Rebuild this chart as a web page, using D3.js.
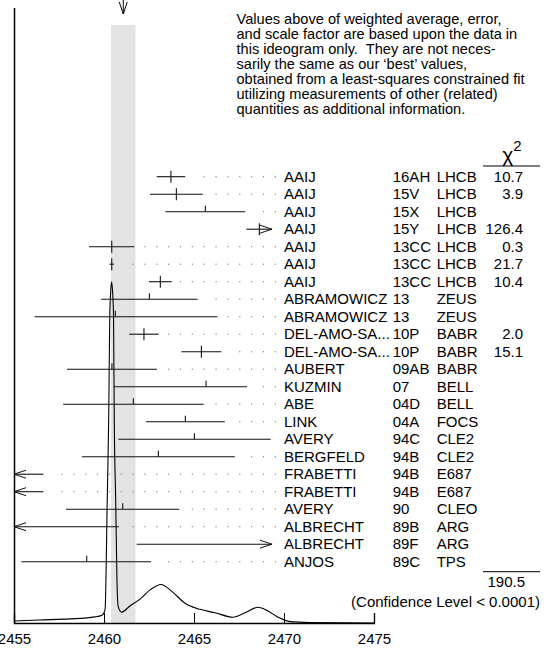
<!DOCTYPE html>
<html>
<head>
<meta charset="utf-8">
<script src="https://cdn.jsdelivr.net/npm/d3@7"></script>
<style>
	body { margin: 0; background: #fff; }
	svg text { font-family: "Liberation Sans", Arial, Helvetica, sans-serif; fill: #000; white-space: pre; }
</style>
</head>
<body>
<div class="chart"></div>
<script>
var authors = ["AAIJ","AAIJ","AAIJ","AAIJ","AAIJ","AAIJ","AAIJ","ABRAMOWICZ","ABRAMOWICZ",
	"DEL-AMO-SA...","DEL-AMO-SA...","AUBERT","KUZMIN","ABE","LINK","AVERY","BERGFELD",
	"FRABETTI","FRABETTI","AVERY","ALBRECHT","ALBRECHT","ANJOS"];
var refs = ["16AH","15V","15X","15Y","13CC","13CC","13CC","13","13","10P","10P","09AB","07",
	"04D","04A","94C","94B","94B","94B","90","89B","89F","89C"];
var exps = ["LHCB","LHCB","LHCB","LHCB","LHCB","LHCB","LHCB","ZEUS","ZEUS","BABR","BABR","BABR",
	"BELL","BELL","FOCS","CLE2","CLE2","E687","E687","CLEO","ARG","ARG","TPS"];
var chi2 = ["10.7","3.9","","126.4","0.3","21.7","10.4","","","2.0","15.1","","","","","","",
	"","","","","",""];
var values = [2463.72, 2464.02, 2465.63, 2468.63, 2460.43, 2460.43, 2463.13, 2462.52, 2460.63,
	2462.22, 2465.41, 2460.44, 2465.67, 2461.63, 2464.52, 2465.02, 2463.02, 2452.6, 2452.6,
	2461.04, 2451.0, 2473.0, 2459.04];
var errLo = [0.79, 1.47, 2.22, 0.72, 1.26, 0.12, 0.63, 2.68, 4.48, 0.82, 1.11, 2.5, 5.13, 3.9,
	2.19, 4.22, 4.25, 4.0, 4.0, 3.15, 9.83, 11.18, 3.63];
var errHi = [0.79, 1.47, 2.22, 0.72, 1.26, 0.12, 0.63, 2.68, 5.67, 0.82, 1.11, 2.5, 2.28, 3.91,
	2.19, 4.24, 4.25, 4.03, 4.03, 3.14, 9.83, 11.18, 3.57];

// weighted average and its (scaled) error
var average = 2461.07;
var averageErr = 0.68;
var chi2Total = "190.5";
var confidence = "(Confidence Level < 0.0001)";

// ideogram curve: [mass, relative height]
var ideoMass = [2455.0, 2456.4, 2458.1, 2459.5, 2459.89, 2460.06, 2460.18, 2460.26, 2460.32,
	2460.36, 2460.42, 2460.47, 2460.53, 2460.57, 2460.65, 2460.72, 2460.79, 2460.98, 2461.44,
	2462.0, 2462.56, 2463.17, 2463.78, 2464.5, 2465.33, 2466.17, 2467.17, 2467.83, 2468.56,
	2469.11, 2469.67, 2470.33, 2471.44, 2475.0];
var ideoHeight = [0.006, 0.009, 0.012, 0.018, 0.023, 0.04, 0.36, 0.595, 0.898, 0.96, 1.0, 0.976,
	0.898, 0.595, 0.36, 0.126, 0.048, 0.032, 0.05, 0.07, 0.097, 0.113, 0.092, 0.058, 0.04, 0.03,
	0.017, 0.03, 0.046, 0.035, 0.017, 0.004, 0.0015, 0.0];

var axisTicks = [2455, 2460, 2465, 2470, 2475];

var noteLines = ["Values above of weighted average, error,",
	"and scale factor are based upon the data in",
	"this ideogram only.  They are not neces-",
	"sarily the same as our \u2018best\u2019 values,",
	"obtained from a least-squares constrained fit",
	"utilizing measurements of other (related)",
	"quantities as additional information."];

var width = 546, height = 649;
var fontSize = "15px";
var baseY = 623;
var clipMax = 2469.33;

var svg = d3.select(".chart")
	.append("svg")
		.attr("width", width)
		.attr("height", height);

var x = d3.scaleLinear().domain([2455, 2475]).range([14, 374]);
var rowY = d3.scalePoint().domain(d3.range(authors.length)).range([176.7, 561.7]);
var ideoY = d3.scaleLinear().domain([0, 1]).range([baseY, 281.7]);

//gray band of the average
svg.append("rect")
	.attr("x", x(average - averageErr))
	.attr("y", 25)
	.attr("width", x(average + averageErr) - x(average - averageErr))
	.attr("height", baseY - 25)
	.attr("fill", "#e3e3e3");

//arrow on top
var ax = x(average);
svg.append("path")
	.attr("d", "M" + ax + ",0V14M" + (ax - 4) + ",2L" + ax + ",14L" + (ax + 4) + ",2")
	.attr("fill", "none")
	.attr("stroke", "#000")
	.attr("stroke-width", 1);

//left vertical line
svg.append("line")
	.attr("x1", 14.5).attr("x2", 14.5)
	.attr("y1", 8).attr("y2", baseY)
	.attr("stroke", "#000")
	.attr("stroke-width", 1.5);

//bottom axis, ticks inside
var axis = d3.axisBottom(x)
	.tickValues(axisTicks)
	.tickSize(-10)
	.tickPadding(10)
	.tickFormat(d3.format("d"));
var axisG = svg.append("g")
	.attr("transform", "translate(0," + baseY + ")")
	.call(axis);
axisG.select(".domain").attr("stroke-width", 1.3);
axisG.selectAll("text")
	.attr("font-size", fontSize)
	.attr("font-family", "Liberation Sans, Arial, sans-serif");

//ideogram
var ideoPts = ideoMass.map(function(d, i){ return [d, ideoHeight[i]]; });
svg.append("path")
	.datum(ideoPts)
	.attr("fill", "none")
	.attr("stroke", "#000")
	.attr("stroke-width", 1.1)
	.attr("d", d3.line()
		.x(function(d){ return x(d[0]); })
		.y(function(d){ return ideoY(d[1]); })
		.curve(d3.curveMonotoneX));

//measurements
var rows = svg.selectAll(".row")
	.data(d3.range(authors.length))
	.enter()
		.append("g")
			.attr("class", "row")
			.attr("transform", function(i){ return "translate(0," + rowY(i) + ")"; });

rows.each(function(i){
	var g = d3.select(this);
	var lo = values[i] - errLo[i], hi = values[i] + errHi[i];
	var x0 = x(Math.max(lo, 2455)), x1 = x(Math.min(hi, clipMax));
	g.append("line")
		.attr("x1", x0).attr("x2", x1)
		.attr("y1", 0).attr("y2", 0)
		.attr("stroke", "#111")
		.attr("stroke-width", 1.1);
	if(lo < 2455){
		g.append("path")
			.attr("d", "M" + (x0 + 12) + ",-4L" + x0 + ",0L" + (x0 + 12) + ",4")
			.attr("fill", "none").attr("stroke", "#111");
	}
	if(hi > clipMax){
		g.append("path")
			.attr("d", "M" + (x1 - 12) + ",-4L" + x1 + ",0L" + (x1 - 12) + ",4")
			.attr("fill", "none").attr("stroke", "#111");
	}
	//center mark: full cross if used in average, otherwise half tick
	if(values[i] >= 2455 && values[i] <= clipMax){
		var cx = x(values[i]);
		g.append("line")
			.attr("x1", cx).attr("x2", cx)
			.attr("y1", -6).attr("y2", chi2[i] ? 6 : 0)
			.attr("stroke", "#111")
			.attr("stroke-width", 1.1);
	}
	//dotted leaders
	var dots = [];
	for(var k = 0; k < 24; k++){
		var dx = 275.3 - 11.85 * k;
		if(dx > x1 + 8) dots.push(dx);
	}
	g.selectAll(".dot")
		.data(dots)
		.enter()
			.append("rect")
				.attr("x", function(d){ return d - 0.6; })
				.attr("y", -0.6)
				.attr("width", 1.2)
				.attr("height", 1.2)
				.attr("fill", "#888");
});

//label columns
rows.append("text").attr("x", 284).attr("y", 5).attr("font-size", fontSize)
	.text(function(i){ return authors[i]; });
rows.append("text").attr("x", 392.7).attr("y", 5).attr("font-size", fontSize)
	.text(function(i){ return refs[i]; });
rows.append("text").attr("x", 436.7).attr("y", 5).attr("font-size", fontSize)
	.text(function(i){ return exps[i]; });
rows.append("text").attr("x", 523).attr("y", 5).attr("font-size", fontSize)
	.attr("text-anchor", "end")
	.text(function(i){ return chi2[i]; });

//chi2 header
var head = svg.append("text")
	.attr("x", 512)
	.attr("y", 161.5)
	.attr("text-anchor", "middle")
	.attr("font-size", "21px");
head.append("tspan").text("\u03c7");
head.append("tspan").attr("font-size", "15px").attr("dy", -11).text("2");
svg.append("line")
	.attr("x1", 483).attr("x2", 540)
	.attr("y1", 166).attr("y2", 166)
	.attr("stroke", "#000");

//chi2 total
svg.append("line")
	.attr("x1", 483).attr("x2", 540)
	.attr("y1", 571.7).attr("y2", 571.7)
	.attr("stroke", "#000");
svg.append("text")
	.attr("x", 525).attr("y", 587)
	.attr("text-anchor", "end")
	.attr("font-size", fontSize)
	.text(chi2Total);
svg.append("text")
	.attr("x", 540).attr("y", 607)
	.attr("text-anchor", "end")
	.attr("font-size", fontSize)
	.text(confidence);

//note text block
svg.selectAll(".note")
	.data(noteLines)
	.enter()
		.append("text")
			.attr("x", 236.5)
			.attr("y", function(d, i){ return 23.5 + i * 15; })
			.attr("font-size", "14.6px")
			.text(function(d){ return d; });
</script>
</body>
</html>
